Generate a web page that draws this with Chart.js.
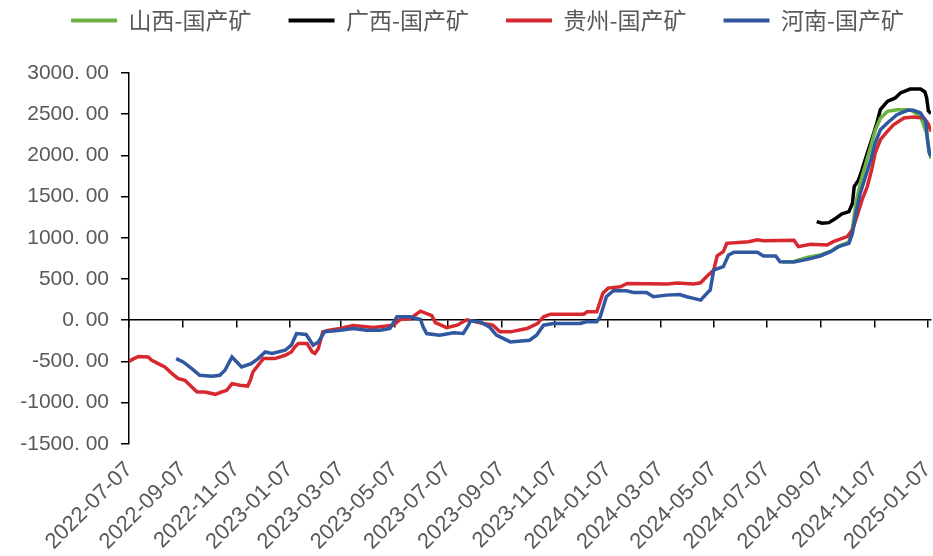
<!DOCTYPE html>
<html><head><meta charset="utf-8">
<script src="https://cdn.jsdelivr.net/npm/chart.js@4"></script>
<style>html,body{margin:0;padding:0;background:#fff}#wrap{width:933px;height:556px}</style>
</head><body><div id="wrap"><canvas id="c" width="933" height="556"></canvas></div>
<script>
const seriesNames = ["山西-国产矿", "广西-国产矿", "贵州-国产矿", "河南-国产矿"];
const tickDates = ["2022-07-07","2022-09-07","2022-11-07","2023-01-07","2023-03-07","2023-05-07","2023-07-07","2023-09-07","2023-11-07","2024-01-07","2024-03-07","2024-05-07","2024-07-07","2024-09-07","2024-11-07","2025-01-07"];
const yTicks = [-1500, -1000, -500, 0, 500, 1000, 1500, 2000, 2500, 3000];

const shanxiDates = ["2024-07-25","2024-08-07","2024-08-22","2024-09-06","2024-09-18","2024-09-27","2024-10-09","2024-10-13","2024-10-17","2024-10-22","2024-10-28","2024-11-03","2024-11-08","2024-11-14","2024-11-22","2024-12-03","2024-12-18","2024-12-30","2025-01-06","2025-01-09","2025-01-11"];
const shanxiValues = [705,712,760,790,838,895,950,1120,1420,1670,1890,2110,2300,2450,2534,2555,2555,2474,2271,2050,1960];

const guangxiDates = ["2024-09-02","2024-09-08","2024-09-16","2024-09-24","2024-10-01","2024-10-09","2024-10-13","2024-10-15","2024-10-20","2024-10-24","2024-10-30","2024-11-04","2024-11-10","2024-11-14","2024-11-22","2024-12-01","2024-12-07","2024-12-18","2024-12-30","2025-01-04","2025-01-06","2025-01-08","2025-01-11"];
const guangxiValues = [1196,1176,1184,1237,1290,1318,1419,1622,1703,1825,2028,2190,2393,2555,2656,2697,2758,2805,2805,2770,2700,2540,2510];

const guizhouDates = ["2022-07-07","2022-07-12","2022-07-18","2022-07-29","2022-08-02","2022-08-09","2022-08-17","2022-08-25","2022-09-01","2022-09-09","2022-09-17","2022-09-23","2022-10-02","2022-10-14","2022-10-21","2022-10-27","2022-11-02","2022-11-11","2022-11-20","2022-11-23","2022-11-26","2022-12-02","2022-12-08","2022-12-21","2023-01-02","2023-01-09","2023-01-13","2023-01-17","2023-01-27","2023-02-02","2023-02-05","2023-02-09","2023-02-14","2023-02-20","2023-03-06","2023-03-21","2023-04-13","2023-05-06","2023-05-14","2023-05-25","2023-06-06","2023-06-19","2023-06-23","2023-07-06","2023-07-18","2023-07-29","2023-08-17","2023-08-28","2023-09-05","2023-09-17","2023-10-06","2023-10-18","2023-10-25","2023-11-02","2023-12-10","2023-12-14","2023-12-25","2024-01-01","2024-01-07","2024-01-21","2024-01-29","2024-03-15","2024-03-26","2024-04-14","2024-04-22","2024-04-29","2024-05-07","2024-05-11","2024-05-18","2024-05-22","2024-06-16","2024-06-26","2024-07-03","2024-08-07","2024-08-12","2024-08-26","2024-09-14","2024-09-21","2024-10-07","2024-10-13","2024-10-18","2024-10-24","2024-10-30","2024-11-04","2024-11-08","2024-11-14","2024-11-22","2024-11-29","2024-12-11","2024-12-22","2025-01-03","2025-01-08","2025-01-11"];
const guizhouValues = [-500,-470,-440,-446,-487,-525,-568,-645,-706,-730,-811,-872,-872,-900,-872,-852,-770,-790,-800,-730,-629,-547,-466,-466,-426,-386,-325,-284,-284,-386,-405,-345,-142,-125,-100,-65,-90,-60,10,18,110,55,-30,-90,-61,5,-41,-61,-142,-142,-101,-41,41,73,73,101,101,328,389,405,446,438,450,438,454,530,608,780,831,933,953,975,965,970,892,920,912,953,1014,1095,1257,1460,1622,1825,2028,2190,2291,2372,2453,2466,2453,2380,2290];

const henanDates = ["2022-08-30","2022-09-07","2022-09-17","2022-09-26","2022-10-10","2022-10-19","2022-10-25","2022-11-02","2022-11-13","2022-11-24","2022-12-02","2022-12-10","2022-12-18","2023-01-02","2023-01-09","2023-01-15","2023-01-26","2023-02-03","2023-02-09","2023-02-16","2023-03-06","2023-03-21","2023-04-05","2023-04-21","2023-05-02","2023-05-10","2023-05-25","2023-06-06","2023-06-09","2023-06-13","2023-06-28","2023-07-14","2023-07-25","2023-07-31","2023-08-02","2023-08-13","2023-08-24","2023-09-01","2023-09-17","2023-10-09","2023-10-17","2023-10-25","2023-11-05","2023-12-06","2023-12-13","2023-12-25","2023-12-29","2024-01-05","2024-01-13","2024-01-28","2024-02-05","2024-02-20","2024-02-28","2024-03-14","2024-03-29","2024-04-06","2024-04-14","2024-04-22","2024-04-29","2024-05-03","2024-05-07","2024-05-18","2024-05-24","2024-05-30","2024-06-26","2024-07-03","2024-07-17","2024-07-22","2024-08-07","2024-08-22","2024-09-06","2024-09-18","2024-09-27","2024-10-09","2024-10-13","2024-10-17","2024-10-22","2024-10-28","2024-11-03","2024-11-08","2024-11-14","2024-11-22","2024-12-03","2024-12-15","2024-12-22","2024-12-30","2025-01-05","2025-01-07","2025-01-09","2025-01-11"];
const henanValues = [-466,-507,-588,-669,-681,-669,-608,-446,-568,-527,-466,-386,-405,-365,-304,-162,-174,-304,-264,-142,-122,-101,-122,-122,-101,41,41,8,-81,-162,-182,-154,-162,-61,-8,-20,-81,-182,-264,-243,-182,-61,-41,-41,-20,-20,41,284,357,357,337,337,284,304,312,284,264,243,324,365,608,649,791,823,823,779,779,710,705,738,779,831,892,933,1054,1298,1541,1744,1947,2150,2311,2393,2494,2547,2547,2514,2413,2190,2030,1990];

const colors = ["#6DB344", "#000000", "#D7282F", "#2F58A0"];
const xMinDate = "2022-07-07", xMaxDate = "2025-01-11";

const toTime = s => { const [y, m, d] = s.split('-').map(Number); return Date.UTC(y, m - 1, d); };
const pts = (ds, vs) => ds.map((d, i) => ({ x: toTime(d), y: vs[i] }));
const fmtDate = t => new Date(t).toISOString().slice(0, 10);
const setTicks = s => { s.ticks = tickDates.map(d => ({ value: toTime(d) })); };
const fmtY = v => v.toFixed(2).replace('.', '. ');

const legendTweak = {
  id: 'legendTweak',
  beforeInit(chart) {
    const fit = chart.legend.fit;
    chart.legend.fit = function () { fit.call(this); this.height += 31; };
  },
  afterLayout(chart) {
    chart.legend.right += 10;
  }
};

const seriesSets = [
  [shanxiDates, shanxiValues, 2],
  [guangxiDates, guangxiValues, 3],
  [guizhouDates, guizhouValues, 1],
  [henanDates, henanValues, 0]
];

const fam = '"Liberation Sans", Arial, sans-serif';

new Chart(document.getElementById('c'), {
  type: 'line',
  data: {
    datasets: seriesSets.map((s, i) => ({
      label: seriesNames[i],
      data: pts(s[0], s[1]),
      borderColor: colors[i],
      backgroundColor: colors[i],
      order: s[2]
    }))
  },
  options: {
    responsive: false,
    animation: false,
    devicePixelRatio: 1,
    elements: { point: { radius: 0 }, line: { borderWidth: 3.5, tension: 0 } },
    layout: { padding: { top: -28, left: 0, right: 2, bottom: -12 } },
    plugins: {
      tooltip: { enabled: false },
      legend: {
        position: 'top',
        align: 'end',
        labels: {
          boxWidth: 46,
          boxHeight: 4,
          padding: 37,
          color: '#595959',
          font: { family: '"Noto Sans CJK SC", sans-serif', size: 23 },
          sort: (a, b) => a.datasetIndex - b.datasetIndex,
          generateLabels: chart => Chart.defaults.plugins.legend.labels.generateLabels(chart).map(l => Object.assign(l, { lineWidth: 0 }))
        }
      }
    },
    scales: {
      x: {
        type: 'linear',
        position: 'bottom',
        min: toTime(xMinDate),
        max: toTime(xMaxDate),
        afterBuildTicks: setTicks,
        afterFit: s => { s.paddingLeft = 0; s.paddingRight = 0; },
        ticks: { autoSkip: false, minRotation: 45, maxRotation: 45, color: '#595959', font: { family: fam, size: 22 }, padding: 13, callback: v => fmtDate(v) },
        grid: { display: false, drawTicks: false },
        border: { display: false }
      },
      x0: {
        type: 'linear',
        position: { y: 0 },
        min: toTime(xMinDate),
        max: toTime(xMaxDate),
        afterBuildTicks: setTicks,
        ticks: { display: false },
        grid: { drawOnChartArea: false, drawTicks: true, tickLength: 7, color: '#000', lineWidth: 1.5 },
        border: { display: true, color: '#000', width: 1.5 }
      },
      y: {
        min: -1500,
        max: 3000,
        afterBuildTicks: s => { s.ticks = yTicks.map(v => ({ value: v })); },
        afterFit: s => { s.width = 129; },
        ticks: { color: '#595959', font: { family: fam, size: 21 }, padding: 12, callback: v => fmtY(v) },
        grid: { drawOnChartArea: false, drawTicks: true, tickLength: 8, color: '#000', lineWidth: 1.5 },
        border: { display: true, color: '#000', width: 1.5 }
      }
    }
  },
  plugins: [legendTweak]
});
</script></body></html>
